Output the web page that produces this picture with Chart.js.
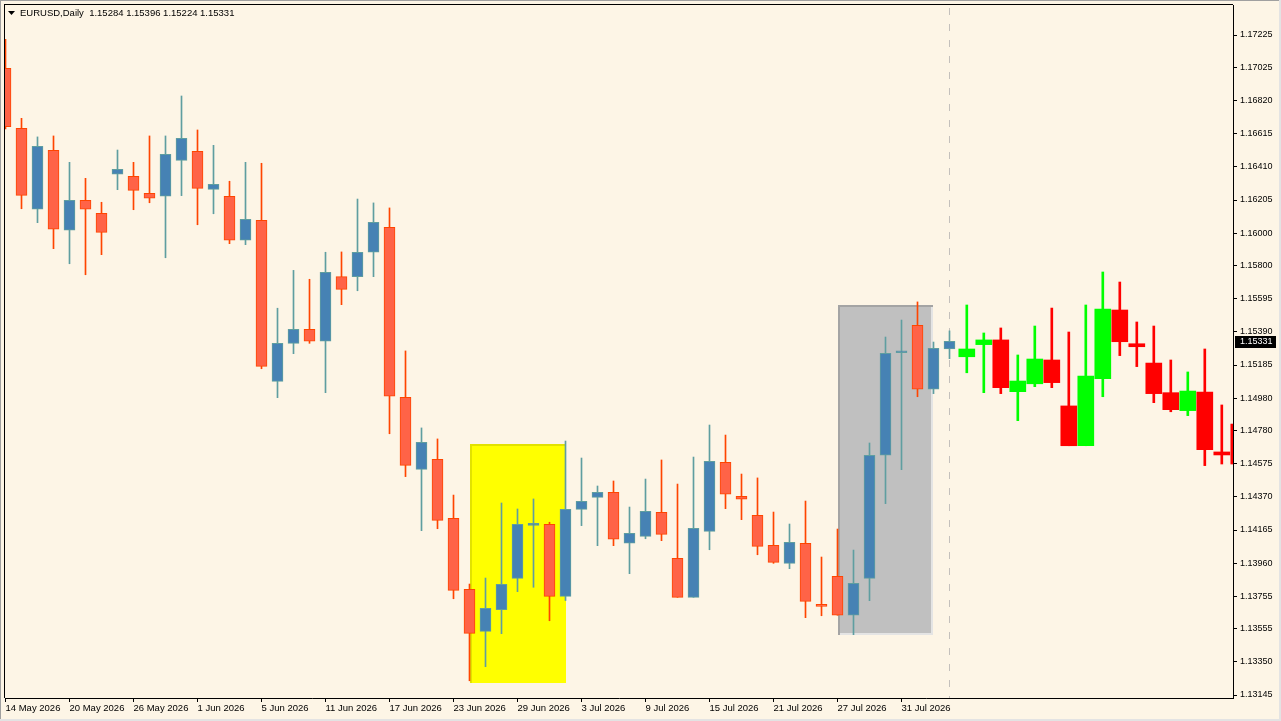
<!DOCTYPE html>
<html>
<head>
<meta charset="utf-8">
<script src="https://cdn.jsdelivr.net/npm/chart.js@4.4.1/dist/chart.umd.min.js"></script>
<style>
  html, body { margin: 0; padding: 0; background: #fdf5e6; overflow: hidden; }
  #wrap { width: 1281px; height: 721px; }
</style>
</head>
<body>
<div id="wrap"><canvas id="chart" width="1281" height="721"></canvas></div>
<script>
const title = 'EURUSD,Daily  1.15284 1.15396 1.15224 1.15331'

// daily bars, oldest first
const open = [1.17019, 1.16648, 1.16148, 1.16512, 1.16018, 1.16203, 1.16123, 1.16364, 1.16352, 1.16246,
  1.16228, 1.16450, 1.16506, 1.16271, 1.16228, 1.15956, 1.16080, 1.15084, 1.15319, 1.15406,
  1.15332, 1.15731, 1.15731, 1.15882, 1.16036, 1.14985, 1.14540, 1.14602, 1.14237, 1.13798,
  1.13538, 1.13672, 1.13866, 1.14194, 1.14200, 1.13755, 1.14293, 1.14367, 1.14398, 1.14083,
  1.14126, 1.14274, 1.13990, 1.13749, 1.14157, 1.14584, 1.14373, 1.14256, 1.14070, 1.13959,
  1.14083, 1.13706, 1.13879, 1.13638, 1.13866, 1.14627, 1.15261, 1.15430, 1.15035, 1.15284]
const high = [1.17199, 1.16710, 1.16595, 1.16601, 1.16438, 1.16339, 1.16191, 1.16514, 1.16438, 1.16601,
  1.16601, 1.16848, 1.16638, 1.16543, 1.16321, 1.16438, 1.16432, 1.15536, 1.15770, 1.15715,
  1.15882, 1.15884, 1.16211, 1.16187, 1.16156, 1.15272, 1.14796, 1.14728, 1.14381, 1.13831,
  1.13868, 1.14332, 1.14295, 1.14357, 1.14213, 1.14715, 1.14610, 1.14437, 1.14468, 1.14307,
  1.14480, 1.14598, 1.14449, 1.14616, 1.14814, 1.14752, 1.14511, 1.14487, 1.14276, 1.14202,
  1.14344, 1.13998, 1.14171, 1.14041, 1.14703, 1.15358, 1.15463, 1.15575, 1.15327, 1.15396]
const low = [1.16644, 1.16151, 1.16065, 1.15904, 1.15811, 1.15743, 1.15867, 1.16269, 1.16145, 1.16188,
  1.15848, 1.16232, 1.16052, 1.16120, 1.15935, 1.15929, 1.15162, 1.14983, 1.15255, 1.15319,
  1.15014, 1.15558, 1.15644, 1.15731, 1.14760, 1.14495, 1.14161, 1.14173, 1.13740, 1.13233,
  1.13320, 1.13524, 1.13784, 1.13811, 1.13604, 1.13729, 1.14192, 1.14068, 1.14068, 1.13895,
  1.14111, 1.14099, 1.13749, 1.13749, 1.14043, 1.14297, 1.14229, 1.14012, 1.13959, 1.13926,
  1.13623, 1.13635, 1.13638, 1.13518, 1.13728, 1.14328, 1.14538, 1.14989, 1.15008, 1.15224]
const close = [1.16658, 1.16234, 1.16537, 1.16024, 1.16203, 1.16148, 1.16005, 1.16395, 1.16265, 1.16216,
  1.16488, 1.16586, 1.16277, 1.16302, 1.15956, 1.16086, 1.15177, 1.15319, 1.15406, 1.15332,
  1.15758, 1.15653, 1.15882, 1.16067, 1.14992, 1.14565, 1.14707, 1.14225, 1.13792, 1.13526,
  1.13681, 1.13829, 1.14200, 1.14194, 1.13755, 1.14293, 1.14342, 1.14398, 1.14108, 1.14145,
  1.14281, 1.14138, 1.13749, 1.14176, 1.14590, 1.14386, 1.14355, 1.14064, 1.13965, 1.14089,
  1.13724, 1.13693, 1.13638, 1.13836, 1.14627, 1.15257, 1.15261, 1.15035, 1.15288, 1.15331]

// projected bars to the right of the dashed line
const fOpen = [1.15236, 1.15311, 1.15340, 1.15020, 1.15069, 1.15216, 1.14932, 1.14686, 1.15100,
  1.15525, 1.15315, 1.15197, 1.15014, 1.14903, 1.15018, 1.14641, 1.14820]
const fHigh = [1.15556, 1.15383, 1.15414, 1.15247, 1.15426, 1.15537, 1.15389, 1.15556, 1.15760,
  1.15698, 1.15451, 1.15426, 1.15216, 1.15142, 1.15284, 1.14938, 1.14900]
const fLow = [1.15137, 1.15014, 1.15008, 1.14841, 1.15051, 1.15045, 1.14686, 1.14686, 1.14989,
  1.15243, 1.15175, 1.14952, 1.14896, 1.14872, 1.14563, 1.14573, 1.14550]
const fClose = [1.15284, 1.15340, 1.15045, 1.15086, 1.15222, 1.15076, 1.14686, 1.15117, 1.15531,
  1.15329, 1.15298, 1.15008, 1.14909, 1.15024, 1.14662, 1.14629, 1.14573]

// rectangles: first bar, last bar, top price, bottom price
const boxFrom = [29, 52]
const boxTo = [35, 58]
const boxTop = [1.14695, 1.15558]
const boxBottom = [1.13221, 1.13514]

const dateTickBars = [0, 4, 8, 12, 16, 20, 24, 28, 32, 36, 40, 44, 48, 52, 56]
const dateLabels = ['14 May 2026', '20 May 2026', '26 May 2026', '1 Jun 2026', '5 Jun 2026', '11 Jun 2026',
  '17 Jun 2026', '23 Jun 2026', '29 Jun 2026', '3 Jul 2026', '9 Jul 2026', '15 Jul 2026',
  '21 Jul 2026', '27 Jul 2026', '31 Jul 2026']
const priceTicks = [1.13145, 1.13350, 1.13555, 1.13755, 1.13960, 1.14165, 1.14370, 1.14575, 1.14780,
  1.14980, 1.15185, 1.15390, 1.15595, 1.15800, 1.16000, 1.16205, 1.16410, 1.16615, 1.16820,
  1.17025, 1.17225]

const FONT = '"Liberation Sans", Arial, sans-serif'
const boxFill = ['#ffff00', '#c0c0c0']
const boxEdgeDark = ['#e2e200', '#a4a4a4']
const boxEdgeLight = ['#ffff00', '#e4e4e4']

const up = i => close[i] >= open[i]
const fUp = i => fClose[i] >= fOpen[i]

const decor = {
  id: 'decor',
  beforeDatasetsDraw(chart) {
    const {ctx, chartArea: a, scales: {x, y}} = chart
    ctx.save()
    ctx.beginPath()
    ctx.rect(a.left, a.top, a.right - a.left, a.bottom - a.top)
    ctx.clip()
    boxFrom.forEach((b, i) => {
      const x0 = Math.round(x.getPixelForValue(b))
      const x1 = Math.round(x.getPixelForValue(boxTo[i]))
      const y0 = Math.round(y.getPixelForValue(boxTop[i]))
      const y1 = Math.round(y.getPixelForValue(boxBottom[i]))
      ctx.fillStyle = boxFill[i]
      ctx.fillRect(x0, y0, x1 - x0, y1 - y0)
      ctx.fillStyle = boxEdgeLight[i]
      ctx.fillRect(x1 - 2, y0, 2, y1 - y0)
      ctx.fillRect(x0, y1 - 2, x1 - x0, 2)
      ctx.fillStyle = boxEdgeDark[i]
      ctx.fillRect(x0, y0, x1 - x0, 2)
      ctx.fillRect(x0, y0, 2, y1 - y0)
    })
    // separator at the last real bar
    const sx = Math.floor(x.getPixelForValue(close.length - 1)) + 0.5
    ctx.strokeStyle = '#c4c0bc'
    ctx.lineWidth = 1
    ctx.setLineDash([7, 9])
    ctx.beginPath()
    ctx.moveTo(sx, a.top + 3)
    ctx.lineTo(sx, a.bottom)
    ctx.stroke()
    ctx.restore()
  },
  afterDraw(chart) {
    const {ctx, chartArea: a, scales: {y}} = chart
    ctx.save()
    // chart frame
    ctx.fillStyle = '#000'
    ctx.fillRect(a.left - 1, a.top - 1, a.right - a.left + 1, 1)
    ctx.fillRect(a.left - 1, a.top - 1, 1, a.bottom - a.top + 1)
    // window edges
    ctx.fillStyle = '#a0a0a0'
    ctx.fillRect(0, 0, 1281, 1)
    ctx.fillRect(0, 0, 1, 721)
    ctx.fillStyle = '#e3e3e3'
    ctx.fillRect(0, 719, 1281, 2)
    ctx.fillRect(1279, 0, 2, 721)
    // header
    ctx.fillStyle = '#000'
    ctx.beginPath()
    ctx.moveTo(8, 11); ctx.lineTo(15, 11); ctx.lineTo(11.5, 15); ctx.closePath()
    ctx.fill()
    ctx.font = '9.5px ' + FONT
    ctx.textBaseline = 'middle'
    ctx.textAlign = 'left'
    ctx.fillText(title, 20, 13.5)
    // current price tag
    const last = close[close.length - 1]
    const py = Math.round(y.getPixelForValue(last))
    ctx.fillStyle = '#000'
    ctx.fillRect(a.right + 2, py - 5, 41, 12)
    ctx.fillStyle = '#fff'
    ctx.font = '9px ' + FONT
    ctx.fillText(last.toFixed(5), a.right + 7, py + 1)
    ctx.restore()
  }
}

const ctx = document.getElementById('chart')
new Chart(ctx, {
  type: 'bar',
  data: {
    datasets: [
      {
        label: 'forecast body', xAxisID: 'x2', order: 0,
        data: fOpen.map((o, i) => ({x: i, y: [o, fClose[i]]})),
        barThickness: 16, minBarLength: 3, borderWidth: 0,
        backgroundColor: c => fUp(c.dataIndex) ? '#00ff00' : '#ff0000'
      },
      {
        label: 'body', xAxisID: 'x', order: 1,
        data: open.map((o, i) => ({x: i, y: [o, close[i]]})),
        barThickness: 11, minBarLength: 2, borderWidth: 1, borderSkipped: false,
        backgroundColor: c => up(c.dataIndex) ? '#4682b4' : '#ff6347',
        borderColor: c => up(c.dataIndex) ? '#5f9ea0' : '#ff4500'
      },
      {
        label: 'forecast wick', xAxisID: 'x2', order: 2,
        data: fHigh.map((h, i) => ({x: i, y: [fLow[i], h]})),
        barThickness: 2, borderWidth: 0,
        backgroundColor: c => fUp(c.dataIndex) ? '#00ff00' : '#ff0000'
      },
      {
        label: 'wick', xAxisID: 'x', order: 3,
        data: high.map((h, i) => ({x: i, y: [low[i], h]})),
        barThickness: 1, borderWidth: 0,
        backgroundColor: c => up(c.dataIndex) ? '#5f9ea0' : '#ff4500'
      }
    ]
  },
  options: {
    responsive: false,
    animation: false,
    devicePixelRatio: 1,
    events: [],
    datasets: { bar: { grouped: false } },
    layout: { padding: { top: 5, left: 5, right: 0, bottom: 1 } },
    plugins: { legend: { display: false }, tooltip: { enabled: false } },
    scales: {
      x: {
        type: 'linear', position: 'bottom', offset: false,
        min: -0.03125, max: 76.71875,
        afterFit: s => { s.height = 22; s.paddingLeft = 0; s.paddingRight = 0 },
        afterBuildTicks: s => { s.ticks = dateTickBars.map(v => ({value: v})) },
        ticks: {
          autoSkip: false, maxRotation: 0, align: 'start', padding: 1, color: '#000',
          font: { family: FONT, size: 9.5 },
          callback: v => dateLabels[dateTickBars.indexOf(v)]
        },
        grid: { drawOnChartArea: false, drawTicks: true, tickLength: 4, color: '#000', offset: false },
        border: { display: true, color: '#000' }
      },
      x2: {
        type: 'linear', display: false, offset: false,
        min: -56.5765, max: 15.6588,
        grid: { offset: false }
      },
      y: {
        type: 'linear', position: 'right',
        min: 1.131265, max: 1.174105,
        afterFit: s => { s.width = 48; s.paddingTop = 0; s.paddingBottom = 0 },
        afterBuildTicks: s => { s.ticks = priceTicks.map(v => ({value: v})) },
        ticks: {
          padding: 3, color: '#000',
          font: { family: FONT, size: 9 },
          callback: v => v.toFixed(5)
        },
        grid: { drawOnChartArea: false, drawTicks: true, tickLength: 4, color: '#000' },
        border: { display: true, color: '#000' }
      }
    }
  },
  plugins: [decor]
})
</script>
</body>
</html>
